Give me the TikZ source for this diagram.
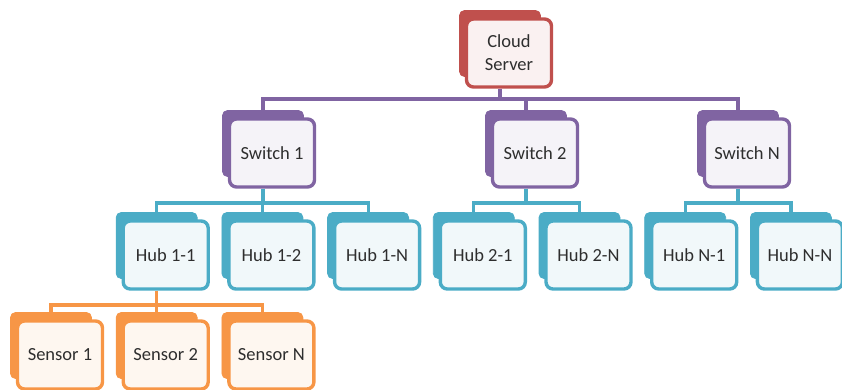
\documentclass[tikz,border=0pt]{standalone}
\usepackage{fontspec}
\setmainfont{Carlito}
\usetikzlibrary{positioning}
\definecolor{cRed}{HTML}{C0504D}
\definecolor{cPurple}{HTML}{8064A2}
\definecolor{cTeal}{HTML}{4BACC6}
\definecolor{cOrange}{HTML}{F79646}
\definecolor{cText}{HTML}{2E2E2E}

\tikzset{
  back/.style={fill=#1, draw=#1, line width=0.8pt, rounded corners=5pt,
    minimum width=81pt, minimum height=66pt, inner sep=0pt},
  front/.style={draw=#1, fill=#1!8, line width=3.4pt, rounded corners=7pt,
    minimum width=85pt, minimum height=68pt, inner sep=0pt, text=cText,
    font=\fontsize{18.5}{23}\selectfont, align=center},
  link/.style={draw=#1, line width=3.2pt},
}

% stacked box: name, left x, top y, colour, text
\newcommand{\stackbox}[5]{%
  \node[back=#4] (#1b) at (#2+41,#3+33.5) {};
  \node[front=#4] (#1) at ([shift={(9,9.5)}]#1b.center) {#5};
}

\begin{document}
\begin{tikzpicture}[x=1pt, y=-1pt]
  \useasboundingbox (0,0) rectangle (842,389);
  \clip (0,0) rectangle (842,389);

  % levels
  \stackbox{cloud}{459}{10}{cRed}{Cloud\\Server}
  \foreach \n/\x/\t in {sw1/222/Switch 1, sw2/485/Switch 2, swN/697/Switch N}
    \stackbox{\n}{\x}{110}{cPurple}{\t};
  \foreach \n/\k/\t in {hub11/1/Hub 1-1, hub12/2/Hub 1-2, hub1N/3/Hub 1-N,
      hub21/4/Hub 2-1, hub2N/5/Hub 2-N, hubN1/6/Hub N-1, hubNN/7/Hub N-N}
    \stackbox{\n}{10+105.7*\k}{212}{cTeal}{\t};
  \foreach \n/\k/\t in {sen1/0/Sensor 1, sen2/1/Sensor 2, senN/2/Sensor N}
    \stackbox{\n}{10+105.7*\k}{312}{cOrange}{\t};

  % buses
  \coordinate (busS) at (0,99);
  \coordinate (busH) at (0,203);
  \coordinate (busL) at (0,305);

  % cloud -> switches
  \draw[link=cPurple] (cloud.south -| cloudb) -- (cloudb |- busS);
  \draw[link=cPurple] (sw1b.north) -- (sw1b |- busS) -- (swNb |- busS) -- (swNb.north);
  \draw[link=cPurple] (sw2b.north) -- (sw2b |- busS);

  % switches -> hubs
  \draw[link=cTeal] (sw1.south -| sw1b) -- (sw1b |- busH);
  \draw[link=cTeal] (hub11b.north) -- (hub11b |- busH) -- (hub1Nb |- busH) -- (hub1Nb.north);
  \draw[link=cTeal] (hub12b.north) -- (hub12b |- busH);
  \draw[link=cTeal] (sw2.south -| sw2b) -- (sw2b |- busH);
  \draw[link=cTeal] (hub21b.north) -- (hub21b |- busH) -- (hub2Nb |- busH) -- (hub2Nb.north);
  \draw[link=cTeal] (swN.south -| swNb) -- (swNb |- busH);
  \draw[link=cTeal] (hubN1b.north) -- (hubN1b |- busH) -- (hubNNb |- busH) -- (hubNNb.north);

  % hub -> sensors
  \draw[link=cOrange] (hub11.south -| hub11b) -- (hub11b |- busL);
  \draw[link=cOrange] (sen1b.north) -- (sen1b |- busL) -- (senNb |- busL) -- (senNb.north);
  \draw[link=cOrange] (sen2b.north) -- (sen2b |- busL);
\end{tikzpicture}
\end{document}
